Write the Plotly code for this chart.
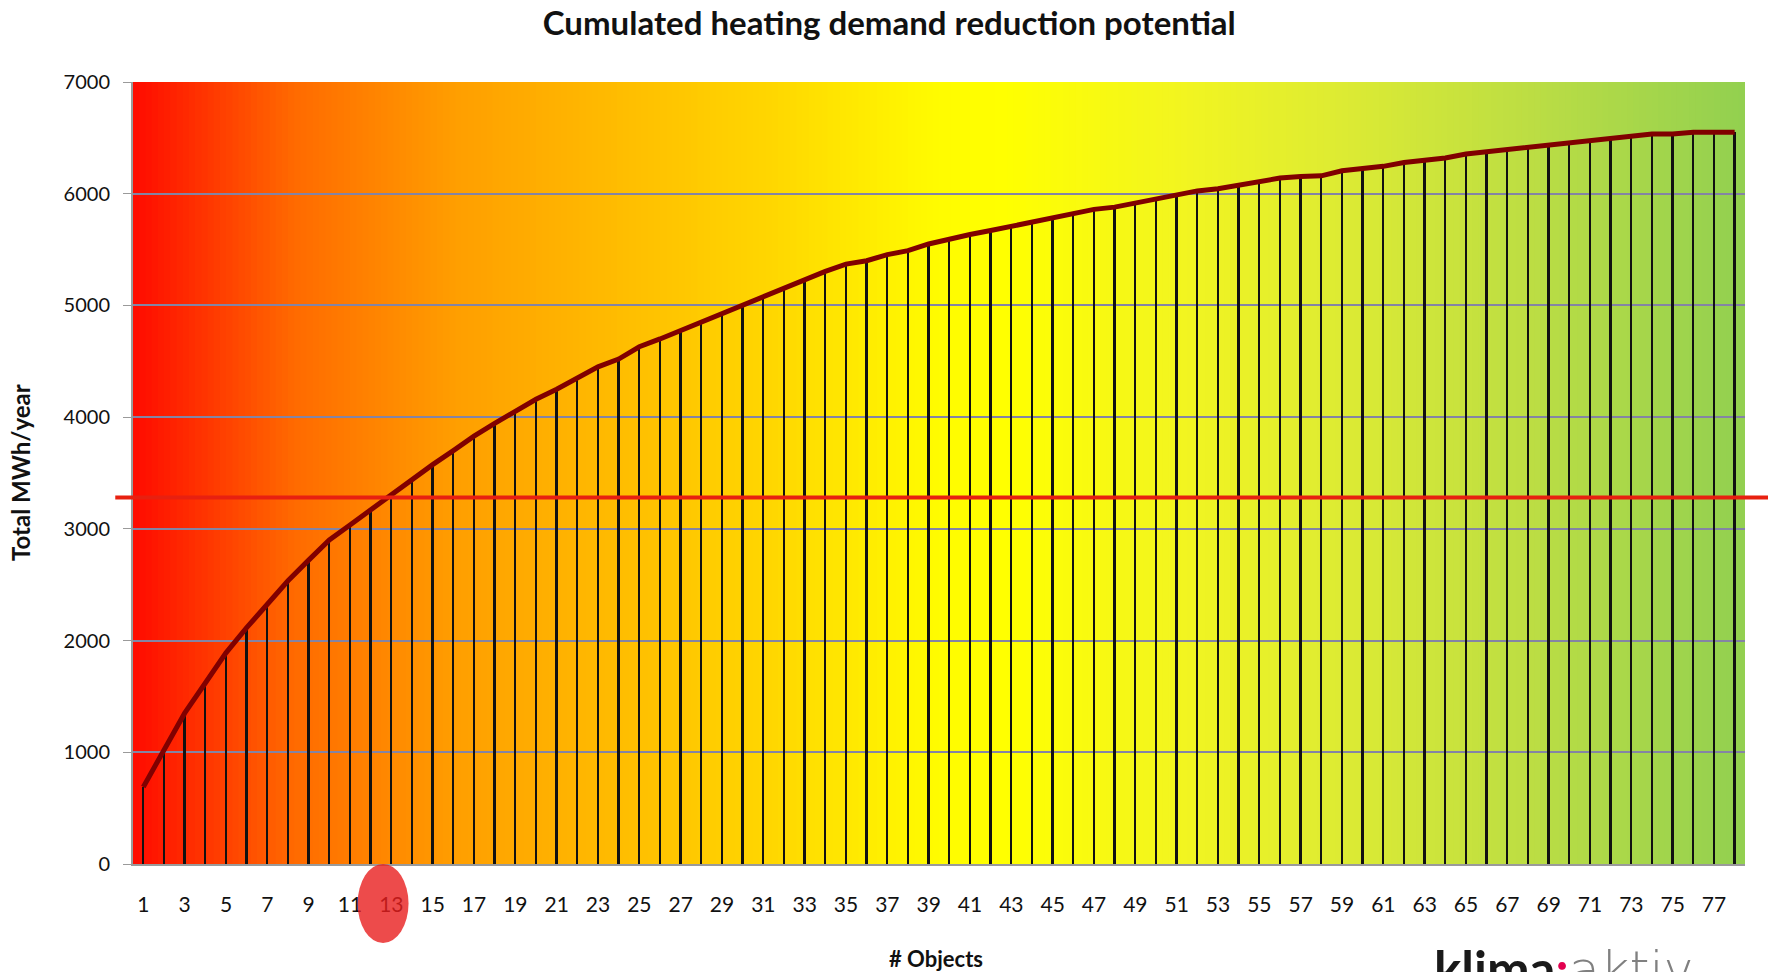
import plotly.graph_objects as go

# ---------------- data ----------------
objects = list(range(1, 79))
cumulated_mwh = [690, 1020, 1350, 1620, 1890, 2115, 2330, 2535, 2720, 2900,
                 3035, 3170, 3300, 3445, 3575, 3700, 3830, 3945, 4050, 4160,
                 4250, 4345, 4450, 4520, 4630, 4700, 4775, 4855, 4930, 5005,
                 5085, 5160, 5225, 5305, 5370, 5400, 5455, 5490, 5550, 5595,
                 5635, 5670, 5710, 5745, 5785, 5820, 5860, 5880, 5915, 5960,
                 5985, 6025, 6045, 6080, 6105, 6140, 6155, 6160, 6205, 6225,
                 6245, 6280, 6300, 6320, 6355, 6375, 6395, 6415, 6435, 6455,
                 6475, 6495, 6515, 6535, 6535, 6550, 6550, 6550]
tick_values = objects[::2]
tick_labels = [str(v) for v in tick_values]
threshold_value = 3280
highlight_object = 13

title_text = "Cumulated heating demand reduction potential"
y_title = "Total MWh/year"
x_title = "# Objects"

# ---------------- style ----------------
W, H = 1768, 972
ML, MR, MT, MB = 133, 23, 82, 108
PW, PH = W - ML - MR, H - MT - MB
X_RANGE = [0.5, 78.5]

grad_stops = [(0.00, (255, 10, 0)), (0.10, (255, 106, 0)), (0.20, (255, 158, 0)),
              (0.30, (255, 188, 0)), (0.40, (255, 216, 0)), (0.50, (255, 252, 0)),
              (0.54, (255, 255, 0)), (0.65, (242, 245, 32)), (0.75, (221, 235, 51)),
              (0.88, (184, 220, 69)), (1.00, (146, 208, 80))]


def grad_color(t):
    for (t0, c0), (t1, c1) in zip(grad_stops[:-1], grad_stops[1:]):
        if t0 <= t <= t1:
            f = (t - t0) / (t1 - t0) if t1 > t0 else 0
            c = [round(a + (b - a) * f) for a, b in zip(c0, c1)]
            return "rgb(%d,%d,%d)" % tuple(c)
    return "rgb(%d,%d,%d)" % grad_stops[-1][1]


def px_x(p):
    return (p - ML) / PW


def px_y(p):
    return (H - MB - p) / PH


shapes = []
N = 260
for i in range(N):
    x0 = i / N
    x1 = min(1.0, (i + 1) / N + 0.002)
    shapes.append(dict(type="rect", xref="paper", yref="paper", x0=x0, x1=x1,
                       y0=0, y1=1, fillcolor=grad_color((i + 0.5) / N),
                       line=dict(width=0), layer="below"))

# threshold line
shapes.append(dict(type="line", xref="paper", yref="y", x0=-0.011, x1=1.02,
                   y0=threshold_value, y1=threshold_value,
                   line=dict(color="#E82010", width=4), layer="above"))


def to_paper(xv):
    return (xv - X_RANGE[0]) / (X_RANGE[1] - X_RANGE[0])


cx = to_paper(highlight_object - 0.4)
shapes.append(dict(type="circle", xref="paper", yref="paper",
                   x0=cx - 0.0158, x1=cx + 0.0158, y0=px_y(943), y1=0.0,
                   fillcolor="rgba(232,30,30,0.80)", line=dict(width=0),
                   layer="above"))

fig = go.Figure()
fig.add_trace(go.Bar(x=objects, y=cumulated_mwh, width=0.085,
                     marker=dict(color="#111111", line=dict(width=0)),
                     hoverinfo="skip", showlegend=False))
fig.add_trace(go.Scatter(x=objects, y=cumulated_mwh, mode="lines",
                         line=dict(color="#800000", width=5),
                         showlegend=False))

font_family = "Lato, 'Open Sans', sans-serif"

logo_text = ("<b>klima</b><span style='color:#E2004F'><b>:</b></span>"
             "<span style=\"font-family:'DejaVu Sans';font-weight:200;"
             "color:#808080\">aktiv</span>")

annotations = [
    dict(text="<b>%s</b>" % x_title, xref="paper", yref="paper",
         x=px_x(936), y=px_y(958), xanchor="center", yanchor="middle",
         showarrow=False, font=dict(family=font_family, size=22, color="#111111")),
    dict(text="<b>%s</b>" % y_title, xref="paper", yref="paper",
         x=px_x(20), y=0.5, xanchor="center", yanchor="middle", textangle=-90,
         showarrow=False, font=dict(family=font_family, size=24, color="#111111")),
    dict(text=logo_text,
         xref="paper", yref="paper", xanchor="left", yanchor="middle",
         x=px_x(1432), y=px_y(969),
         showarrow=False, font=dict(family=font_family, size=51, color="#1a1a1a")),
]

fig.update_layout(
    width=W, height=H,
    margin=dict(l=ML, r=MR, t=MT, b=MB),
    paper_bgcolor="white",
    plot_bgcolor="rgba(0,0,0,0)",
    bargap=0,
    title=dict(text="<b>%s</b>" % title_text, x=0.503, xref="container",
               y=1 - 23 / H, yref="container", xanchor="center", yanchor="middle",
               font=dict(family=font_family, size=33, color="#111111")),
    shapes=shapes,
    annotations=annotations,
    xaxis=dict(range=X_RANGE, tickmode="array", tickvals=tick_values,
               ticktext=tick_labels, showgrid=False, zeroline=False,
               showline=True, linecolor="#9a9a9a", linewidth=2,
               ticks="", ticklabelstandoff=21,
               tickfont=dict(family=font_family, size=21, color="#111111")),
    yaxis=dict(range=[0, 7000], dtick=1000, showgrid=True, gridcolor="#8484A4",
               gridwidth=1.5, zeroline=False, showline=True, linecolor="#9a9a9a",
               linewidth=2, ticks="outside", ticklen=8, tickcolor="#9a9a9a",
               ticklabelstandoff=9,
               tickfont=dict(family=font_family, size=20, color="#111111")),
)

fig.write_html("out.html",
               config={"displayModeBar": False},
               post_script="document.body.style.margin='0';"
                           "document.body.style.overflow='hidden';")
